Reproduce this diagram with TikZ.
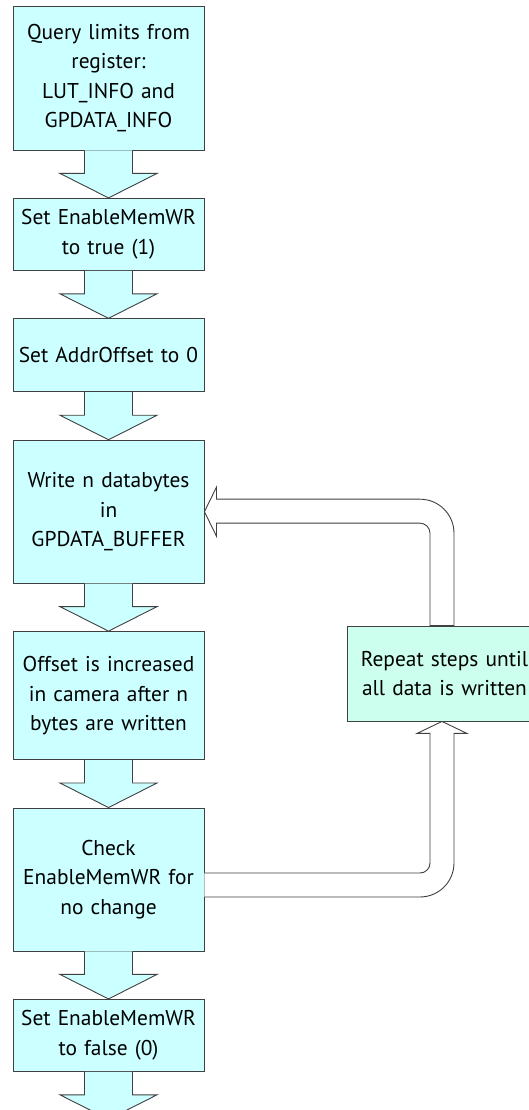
\documentclass[tikz,border=0pt]{standalone}
\usepackage{fontspec}
\setmainfont{PT Sans}
\usetikzlibrary{calc,positioning}

\definecolor{boxcyan}{HTML}{CCFFFF}
\definecolor{boxmint}{HTML}{CCFFEE}
\definecolor{edgegray}{HTML}{404040}

\tikzset{
  stepbox/.style={draw=edgegray, line width=0.9pt, fill=boxcyan, text width=185pt,
    inner xsep=3pt, inner ysep=0pt, align=center,
    font=\fontsize{21.4}{29.5}\selectfont},
  loopbox/.style={stepbox, fill=boxmint, text width=188pt},
  fatarrow/.style={draw=edgegray, line width=0.9pt, fill=boxcyan},
  loopbody/.style={draw=edgegray, line width=0.9pt, fill=white}
}

\newcommand{\fatdown}[2]{%
  \draw[fatarrow] ($(#1.south)+(-24,0)$) -- ++(0,-23) -- ++(-24.5,0) -- (#2)
    -- ($(#1.south)+(48.5,-23)$) -- ++(-24.5,0) -- ($(#1.south)+(24,0)$);}

\begin{document}
\begin{tikzpicture}[x=1pt,y=1pt,node distance=47.5pt]
\useasboundingbox (0,0) rectangle (528,1110);

\node[stepbox, minimum height=144pt] (query) at (108.5,1032)
  {Query limits from\\register:\\LUT\_INFO and\\GPDATA\_INFO};
\node[stepbox, minimum height=72pt, below=of query] (enable)
  {Set EnableMemWR\\to true (1)};
\node[stepbox, minimum height=73pt, below=of enable] (offset)
  {Set AddrOffset to 0};
\node[stepbox, minimum height=143pt, below=of offset] (write)
  {Write n databytes\\in\\GPDATA\_BUFFER};
\node[stepbox, minimum height=128pt, below=of write] (incr)
  {Offset is increased\\in camera after n\\bytes are written};
\node[stepbox, minimum height=143pt, below=of incr] (check)
  {Check\\EnableMemWR for\\no change};
\node[stepbox, minimum height=72pt, below=of check] (disable)
  {Set EnableMemWR\\to false (0)};
\coordinate[below=47.5pt of disable.south] (done);

\node[loopbox, minimum height=95pt, anchor=west] (repeat) at (347,436.5)
  {Repeat steps until\\all data is written};
\coordinate (rbot) at (442,0 |- repeat.south);
\coordinate (rtop) at (442,0 |- repeat.north);

\fatdown{query}{enable.north}
\fatdown{enable}{offset.north}
\fatdown{offset}{write.north}
\fatdown{write}{incr.north}
\fatdown{incr}{check.north}
\fatdown{check}{disable.north}
\fatdown{disable}{done}

\draw[loopbody] ($(check.east)+(0,6.5)$) -- ($(rbot |- check.east)+(-22,6.5)$)
  arc[start angle=-90, end angle=0, radius=10]
  -- ($(rbot)+(-12,-12)$) -- ($(rbot)+(-25,-12)$) -- (rbot)
  -- ($(rbot)+(25,-12)$) -- ($(rbot)+(12,-12)$)
  -- ($(rbot |- check.east)+(12,16.5)$)
  arc[start angle=0, end angle=-90, radius=34]
  -- ($(check.east)+(0,-17.5)$);

\draw[loopbody] (write.east) -- ($(write.east)+(12,24.5)$) -- ($(write.east)+(12,12.5)$)
  -- ($(rtop |- write.east)+(-22,12.5)$)
  arc[start angle=90, end angle=0, radius=34]
  -- ($(rtop)+(12,0)$) -- ($(rtop)+(-12,0)$)
  -- ($(rtop |- write.east)+(-12,-21.5)$)
  arc[start angle=0, end angle=90, radius=10]
  -- ($(write.east)+(12,-11.5)$) -- ($(write.east)+(12,-24.5)$) -- cycle;
\end{tikzpicture}
\end{document}
